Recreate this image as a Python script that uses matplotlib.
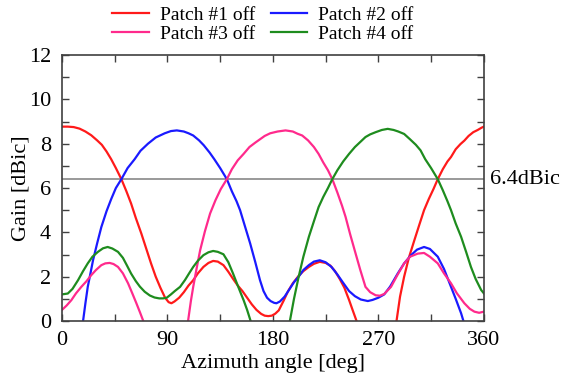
import numpy as np
import matplotlib
matplotlib.use("Agg")
import matplotlib.pyplot as plt

plt.rcParams['font.family'] = ['Liberation Serif', 'DejaVu Serif']

nan = np.nan

# Patch #1 off
ang1 = [0, 5, 10, 15, 20, 25, 30, 34, 38, 42, 46, 50.7, 55, 59, 63, 67.7, 72, 76, 80, 84, 88,
        91, 93.4, 96, 100, 104, 108, 112, 116, 120.7, 125, 129, 133, 137.8, 142, 146, 150, 154,
        158, 162, 166, 170, 173, 176, 179, 182, 185, 189, 193, 197, 202, 206, 210.7, 215, 220,
        225, 229, 233, 237, 241, 245, 248, 251.4, nan,
        285.5, 288.5, 292, 296, 300.7, 305, 309, 313, 317, 320.7, 325, 329, 332, 336, 340,
        343.4, 347, 351, 354.8, 358, 360]
gain1 = [8.77, 8.77, 8.75, 8.68, 8.55, 8.38, 8.15, 7.95, 7.65, 7.3, 6.9, 6.4, 5.85, 5.3, 4.65,
         3.95, 3.25, 2.6, 2.0, 1.5, 1.05, 0.85, 0.8, 0.88, 1.05, 1.3, 1.6, 1.84, 2.15, 2.44, 2.62,
         2.71, 2.68, 2.52, 2.22, 1.9, 1.6, 1.35, 1.05, 0.75, 0.5, 0.32, 0.24, 0.22, 0.24, 0.33,
         0.48, 0.9, 1.35, 1.7, 2.04, 2.25, 2.44, 2.58, 2.67, 2.62, 2.5, 2.25, 1.9, 1.5, 0.95,
         0.5, 0, nan,
         0, 1.1, 2.0, 2.85, 3.64, 4.35, 5.0, 5.5, 5.95, 6.4, 6.85, 7.2, 7.4, 7.75, 7.98,
         8.14, 8.35, 8.52, 8.62, 8.72, 8.77]

# Patch #2 off
ang2 = [18, 20, 22, 24.5, 26.5, 30, 33.6, 38, 42, 46, 50.7, 56, 62, 67, 73.4, 80, 87.7, 93, 98,
        104, 108, 112, 117, 121, 126, 130, 135, 140.7, 145, 149, 152, 156, 160.6, 165, 169, 172,
        175, 178, 181, 183, 186, 190, 193.7, 198, 202, 206, 210.7, 215, 220, 225, 230, 235, 240,
        245, 250, 255, 261, 265, 270, 275, 280, 286.5, 292, 297.9, 303, 309, 314, 320.7, 326,
        332, 336, 340.6, 342.6]
gain2 = [0, 0.8, 1.54, 2.2, 2.74, 3.5, 4.24, 4.95, 5.5, 6.0, 6.4, 6.9, 7.3, 7.68, 8.0, 8.28, 8.47,
         8.57, 8.6, 8.55, 8.47, 8.37, 8.15, 7.93, 7.6, 7.3, 6.9, 6.4, 5.85, 5.4, 5.0, 4.3, 3.5,
         2.65, 1.84, 1.35, 1.05, 0.9, 0.82, 0.8, 0.88, 1.1, 1.4, 1.75, 2.0, 2.3, 2.52, 2.68,
         2.74, 2.65, 2.44, 2.1, 1.72, 1.35, 1.12, 0.97, 0.9, 0.95, 1.05, 1.2, 1.55, 2.14, 2.6,
         2.97, 3.22, 3.34, 3.25, 2.9, 2.35, 1.54, 1.0, 0.35, 0]

# Patch #3 off
ang3 = [0, 4, 8, 12, 16.5, 21, 25, 29, 33.6, 37, 40.7, 44, 47.8, 52, 56.4, 60, 63.5, 66.5,
        69.4, nan,
        107.6, 110, 112, 115, 117.9, 122, 126.4, 131, 135.5, 140.7, 145, 150, 155, 160, 165,
        169, 173, 177.7, 184, 190.8, 197, 201, 205, 210, 215, 219, 223, 227, 230.7, 235, 239,
        242, 246, 250.6, 254.6, 259, 263, 267.7, 271.3, 275, 280.8, 286, 292, 297, 303.6, 309,
        314, 320.7, 326, 332, 337, 343.4, 348, 352, 356, 360]
gain3 = [0.5, 0.7, 0.94, 1.25, 1.54, 1.8, 2.07, 2.3, 2.52, 2.6, 2.62, 2.57, 2.44, 2.15, 1.7,
         1.25, 0.8, 0.4, 0, nan,
         0, 0.9, 1.54, 2.4, 3.19, 4.05, 4.85, 5.45, 5.95, 6.4, 6.85, 7.25, 7.54, 7.85, 8.05,
         8.2, 8.35, 8.47, 8.55, 8.6, 8.55, 8.45, 8.37, 8.15, 7.85, 7.54, 7.15, 6.8, 6.4, 5.8,
         5.2, 4.7, 3.9, 3.04, 2.3, 1.54, 1.3, 1.16, 1.14, 1.22, 1.54, 2.05, 2.6, 2.9, 3.04,
         3.07, 2.9, 2.6, 2.15, 1.7, 1.25, 0.8, 0.55, 0.42, 0.37, 0.42]

# Patch #4 off
ang4 = [0, 5, 9, 13.7, 18, 22, 26, 30.7, 35, 39, 43, 47.8, 52, 55.5, 59, 63, 66.5, 70.6, 75,
        79, 83, 86.3, 89.4, 93, 96.5, 100.8, 105, 108.5, 112, 116, 120.7, 125, 129, 133, 137.8,
        142, 146, 150, 153, 155, 158, 161, nan,
        194.5, 198, 202, 206, 210.7, 215, 219, 223, 227, 230.7, 235, 240, 245, 250, 255, 259,
        263, 267.7, 273, 278, 283, 287, 292, 297, 302, 306, 310, 315, 320.7, 325, 329, 332,
        336, 340.6, 345, 349, 353, 357.7, 360]
gain4 = [1.2, 1.24, 1.45, 1.84, 2.25, 2.6, 2.9, 3.12, 3.28, 3.34, 3.27, 3.12, 2.85, 2.5, 2.14,
         1.8, 1.55, 1.32, 1.15, 1.06, 1.02, 1.02, 1.05, 1.2, 1.36, 1.54, 1.85, 2.15, 2.44, 2.72,
         2.97, 3.1, 3.16, 3.12, 3.01, 2.65, 2.14, 1.6, 1.2, 0.94, 0.5, 0, nan,
         0, 1.0, 2.0, 2.9, 3.8, 4.5, 5.14, 5.6, 6.0, 6.4, 6.8, 7.2, 7.54, 7.85, 8.1, 8.3,
         8.42, 8.52, 8.62, 8.67, 8.62, 8.55, 8.44, 8.2, 7.95, 7.7, 7.3, 6.9, 6.4, 5.9, 5.4,
         5.0, 4.4, 3.8, 3.1, 2.44, 1.9, 1.4, 1.25]

ref_level = 6.4

fig = plt.figure(figsize=(5.67, 3.81), dpi=100)
ax = fig.add_axes([0.1093, 0.1575, 0.744, 0.698])

ax.axhline(ref_level, color='#888888', lw=1.2, zorder=1)
h1, = ax.plot(ang1, gain1, color='#ff1a1a', lw=1.6, label='Patch #1 off')
h2, = ax.plot(ang2, gain2, color='#1a1aff', lw=1.6, label='Patch #2 off')
h3, = ax.plot(ang3, gain3, color='#ff2a8c', lw=1.6, label='Patch #3 off')
h4, = ax.plot(ang4, gain4, color='#1e8c1e', lw=1.6, label='Patch #4 off')

ax.set_xlim(0, 360)
ax.set_ylim(0, 12)
ax.set_xticks([0, 90, 180, 270, 360])
ax.set_xticks(np.arange(0, 361, 45), minor=True)
ax.set_yticks(np.arange(0, 13, 2))
ax.set_yticks(np.arange(0, 13, 1), minor=True)
ax.tick_params(which='both', direction='in', top=True, right=True, length=5,
               width=1, color='#404040', labelsize=16)
ax.tick_params(axis='x', pad=7)
ax.tick_params(axis='y', pad=8)
for s in ax.spines.values():
    s.set_color('#404040')
    s.set_linewidth(1.2)

ax.set_xlabel('Azimuth angle [deg]', fontsize=16, labelpad=3)
ax.set_ylabel('Gain [dBic]', fontsize=16, labelpad=-1)
ax.text(1.015, ref_level, '6.4dBic', transform=ax.get_yaxis_transform(),
        fontsize=16, va='center', ha='left')

# row-wise order: #1 #2 / #3 #4
ax.legend([h1, h3, h2, h4], ['Patch #1 off', 'Patch #3 off', 'Patch #2 off', 'Patch #4 off'],
          loc='lower center', bbox_to_anchor=(0.476, 1.003), ncol=2, frameon=False,
          fontsize=14, handlelength=1.9, handletextpad=0.55, columnspacing=0.8,
          labelspacing=0.05, borderpad=0.1)

fig.savefig('out.png', dpi=100)
